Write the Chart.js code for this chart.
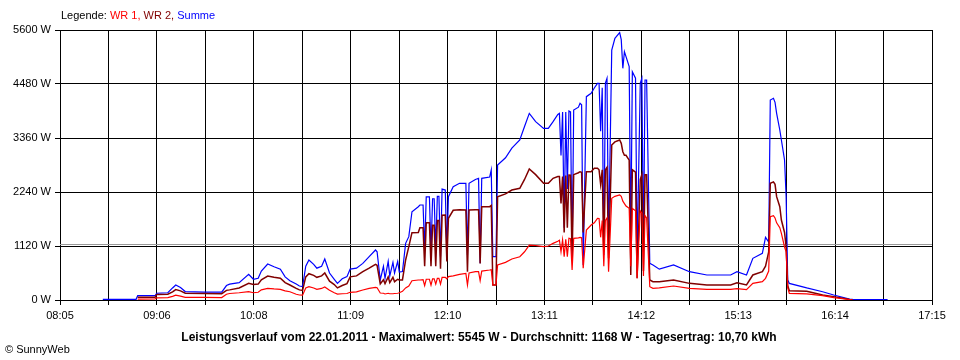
<!DOCTYPE html>
<html>
<head>
<meta charset="utf-8">
<script src="https://cdn.jsdelivr.net/npm/chart.js@4.4.1/dist/chart.umd.min.js"></script>
<style>
    body { margin: 0; background: #fff; }
    #wrap { position: relative; width: 960px; height: 360px; font-family: "Liberation Sans", Arial, sans-serif; }
    #chart { position: absolute; left: 0; top: 0; }
    .legend { position: absolute; left: 61px; top: 9px; font-size: 11px; color: #000; white-space: nowrap; }
    .title { position: absolute; left: 0; width: 958px; top: 330px; text-align: center; font-size: 12px; font-weight: bold; }
    .copy { position: absolute; left: 5px; top: 343px; font-size: 11px; }
</style>
</head>
<body>
<div id="wrap">
    <canvas id="chart" width="960" height="360"></canvas>
    <div class="legend">Legende: <span style="color:#ff0000">WR 1,</span> <span style="color:#800000">WR 2,</span> <span style="color:#0000ff">Summe</span></div>
    <div class="title">Leistungsverlauf vom 22.01.2011 - Maximalwert: 5545 W - Durchschnitt: 1168 W - Tagesertrag: 10,70 kWh</div>
    <div class="copy">© SunnyWeb</div>
</div>
<script>
const tickLabels = ['08:05', '09:06', '10:08', '11:09', '12:10', '13:11', '14:12', '15:13', '16:14', '17:15'];
const yTicks = [0, 1120, 2240, 3360, 4480, 5600];
const average = 1168;

const times = [
    '08:32', '08:53', '08:54', '09:05', '09:06', '09:13', '09:16', '09:18', '09:21', '09:24',
    '09:36', '09:47', '09:50', '09:52', '09:58', '10:04', '10:07', '10:10', '10:12', '10:16',
    '10:20', '10:24', '10:27', '10:30', '10:34', '10:36', '10:38', '10:40', '10:42', '10:45',
    '10:47', '10:50', '10:52', '10:55', '10:58', '11:00', '11:03', '11:06', '11:08', '11:12',
    '11:16', '11:20', '11:24', '11:25', '11:27', '11:29', '11:30', '11:32', '11:33', '11:35',
    '11:36', '11:38', '11:39', '11:41', '11:43', '11:45', '11:47', '11:51', '11:52', '11:54',
    '11:55', '11:56', '11:58', '11:59', '12:00', '12:01', '12:02', '12:03', '12:04', '12:05',
    '12:06', '12:08', '12:09', '12:10', '12:13', '12:17', '12:21', '12:22', '12:23', '12:27',
    '12:29', '12:30', '12:31', '12:36', '12:37', '12:38', '12:40', '12:41', '12:46', '12:50',
    '12:55', '12:58', '13:01', '13:05', '13:10', '13:13', '13:16', '13:19', '13:20', '13:21',
    '13:22', '13:23', '13:24', '13:25', '13:26', '13:27', '13:28', '13:29', '13:32', '13:33',
    '13:34', '13:35', '13:37', '13:40', '13:42', '13:44', '13:45', '13:46', '13:47', '13:48',
    '13:49', '13:50', '13:51', '13:53', '13:55', '13:58', '13:59', '14:00', '14:01', '14:02',
    '14:04', '14:05', '14:06', '14:08', '14:09', '14:11', '14:12', '14:13', '14:14', '14:15',
    '14:17', '14:19', '14:23', '14:32', '14:42', '14:53', '15:08', '15:12', '15:18', '15:22',
    '15:28', '15:30', '15:32', '15:33', '15:35', '15:36', '15:37', '15:39', '15:40', '15:42',
    '15:43', '15:44', '15:45', '15:56', '16:06', '16:13', '16:23', '16:25', '16:47'
];

const summe = [
    15, 15, 90, 90, 140, 150, 250, 311, 260, 175,
    165, 165, 300, 330, 360, 533, 430, 450, 600, 747,
    690, 640, 480, 400, 330, 290, 280, 700, 830, 740,
    660, 700, 850, 560, 430, 345, 440, 484, 640, 660,
    760, 900, 1037, 1000, 415, 700, 450, 800, 500, 780,
    560, 800, 580, 590, 1175, 1313, 1830, 1935, 1970, 1970,
    1040, 2140, 2140, 1000, 2100, 2100, 1050, 2150, 2150, 900,
    2300, 2280, 1037, 2143, 2350, 2420, 2420, 933, 2420, 2500,
    2524, 760, 2524, 2550, 2696, 898, 898, 2800, 2950, 3150,
    3318, 3600, 3871, 3700, 3560, 3560, 3699, 3850, 3870, 3000,
    3900, 1500, 3900, 2300, 3920, 3900, 864, 3941, 4000, 4080,
    4050, 726, 4217, 4287, 4397, 4494, 4494, 3500, 4400, 933,
    4500, 4598, 1140, 5185, 5428, 5545, 5400, 4805, 5150, 5047,
    4840, 1140, 4735, 4600, 900, 4500, 4598, 1000, 4563, 4563,
    760, 726, 640, 726, 587, 519, 519, 587, 519, 864,
    968, 1300, 1200, 4148, 4183, 4100, 3871, 3526, 3318, 2904,
    2143, 415, 345, 250, 172, 104, 20, 15, 10
];

const wr2 = [
    null, null, 55, 55, 115, 120, 170, 215, 190, 140,
    135, 130, 200, 210, 250, 345, 320, 330, 420, 498,
    470, 450, 360, 311, 240, 210, 200, 480, 545, 510,
    470, 500, 560, 390, 320, 250, 300, 340, 480, 500,
    587, 660, 740, 720, 332, 420, 340, 480, 360, 470,
    380, 430, 415, 415, 830, 1106, 1396, 1400, 1500, 1500,
    700, 1600, 1600, 700, 1550, 1550, 700, 1650, 1650, 650,
    1760, 1763, 800, 1694, 1860, 1870, 1867, 587, 1867, 1870,
    1870, 760, 1935, 1935, 1960, 311, 311, 2143, 2200, 2280,
    2316, 2500, 2717, 2600, 2420, 2420, 2524, 2560, 2560, 2000,
    2560, 1400, 2580, 1500, 2593, 2590, 864, 2600, 2640, 2661,
    2650, 1400, 2661, 2661, 2731, 2731, 2700, 2400, 2700, 1000,
    2700, 2750, 864, 3215, 3280, 3318, 3250, 3076, 3000, 3000,
    2900, 520, 2700, 2650, 450, 2500, 2600, 600, 2600, 2600,
    415, 380, 380, 415, 345, 311, 311, 359, 311, 519,
    587, 700, 1000, 2420, 2450, 2400, 2143, 1935, 1659, 1400,
    1100, 300, 193, 180, 104, 70, 10, 0, null
];

const wr1 = [
    null, null, 20, 25, 45, 50, 75, 100, 80, 55,
    55, 50, 120, 135, 150, 172, 150, 160, 210, 242,
    230, 221, 190, 172, 120, 104, 100, 250, 276, 250,
    221, 240, 270, 200, 150, 124, 130, 135, 160, 170,
    207, 240, 263, 255, 145, 140, 125, 140, 130, 130,
    135, 140, 150, 180, 250, 290, 400, 415, 415, 420,
    300, 430, 430, 310, 440, 440, 330, 450, 450, 330,
    470, 470, 440, 484, 500, 530, 553, 311, 560, 587,
    590, 400, 600, 622, 630, 311, 311, 726, 780, 850,
    898, 1000, 1140, 1130, 1106, 1120, 1175, 1220, 1240, 1000,
    1250, 900, 1260, 900, 1280, 1270, 622, 1280, 1290, 1300,
    1290, 657, 1450, 1556, 1600, 1694, 1690, 1300, 1650, 700,
    1650, 1700, 587, 2109, 2150, 2178, 2150, 2050, 2000, 1950,
    1900, 700, 1900, 1850, 450, 1850, 1800, 500, 1750, 1700,
    276, 242, 250, 290, 242, 221, 221, 235, 215, 345,
    380, 450, 600, 1728, 1750, 1700, 1600, 1500, 1383, 1100,
    1000, 250, 138, 125, 90, 50, 10, 0, null
];

function toMinutes(t) {
    const parts = t.split(':');
    return parseInt(parts[0], 10) * 60 + parseInt(parts[1], 10);
}

const xMin = toMinutes(tickLabels[0]);
const xMax = xMin + 550;

function points(values) {
    return times.map((t, i) => ({ x: toMinutes(t), y: values[i] }));
}

const averageLine = {
    id: 'averageLine',
    beforeDatasetsDraw(chart) {
        const ctx = chart.ctx;
        const area = chart.chartArea;
        const y = Math.round(chart.scales.y.getPixelForValue(average)) + 0.5;
        ctx.save();
        ctx.strokeStyle = '#999999';
        ctx.lineWidth = 1;
        ctx.beginPath();
        ctx.moveTo(area.left, y);
        ctx.lineTo(area.right, y);
        ctx.stroke();
        ctx.restore();
    }
};

const font = { family: '"Liberation Sans", Arial, sans-serif', size: 11 };

new Chart(document.getElementById('chart'), {
    type: 'line',
    data: {
        datasets: [
            { label: 'WR 1', data: points(wr1), borderColor: '#ff0000' },
            { label: 'WR 2', data: points(wr2), borderColor: '#800000', borderWidth: 1.5 },
            { label: 'Summe', data: points(summe), borderColor: '#0000ff' }
        ]
    },
    options: {
        responsive: false,
        animation: false,
        parsing: false,
        spanGaps: false,
        elements: {
            point: { radius: 0 },
            line: { borderWidth: 1.2, tension: 0, fill: false }
        },
        layout: { padding: { top: 30, right: 28, left: 0, bottom: 0 } },
        plugins: {
            legend: { display: false },
            tooltip: { enabled: false }
        },
        scales: {
            x: {
                type: 'linear',
                min: xMin,
                max: xMax,
                afterFit(scale) { scale.height = 60; },
                afterBuildTicks(scale) {
                    const ticks = [];
                    for (let i = 0; i <= 18; i++) {
                        ticks.push({ value: xMin + i * 550 / 18 });
                    }
                    scale.ticks = ticks;
                },
                grid: { color: '#000', lineWidth: 1, tickLength: 5 },
                border: { color: '#000' },
                ticks: {
                    color: '#000',
                    font: font,
                    padding: 4,
                    maxRotation: 0,
                    autoSkip: false,
                    callback: (value, index) => index % 2 === 0 ? tickLabels[index / 2] : ''
                }
            },
            y: {
                min: 0,
                max: 5600,
                afterFit(scale) { scale.width = 60; },
                afterBuildTicks(scale) {
                    scale.ticks = yTicks.map(v => ({ value: v }));
                },
                grid: { color: '#000', lineWidth: 1, tickLength: 5 },
                border: { color: '#000' },
                ticks: {
                    color: '#000',
                    font: font,
                    padding: 4,
                    callback: value => value + ' W'
                }
            }
        }
    },
    plugins: [averageLine]
});
</script>
</body>
</html>
